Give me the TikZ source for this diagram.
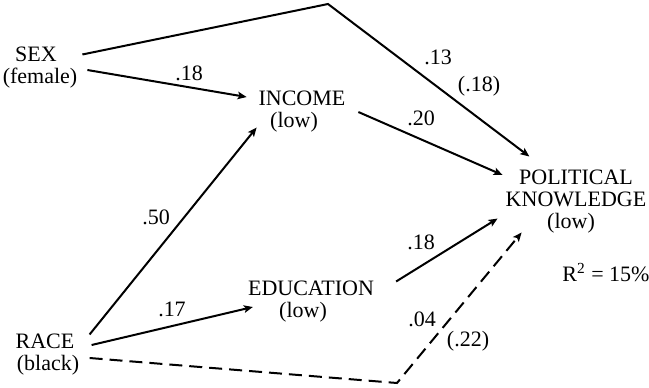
\documentclass[tikz,border=0pt]{standalone}
\usepackage{fontspec}
\setmainfont{Liberation Serif}
\usepackage{tikz}
\usetikzlibrary{arrows.meta,calc}
\tikzset{
  var/.style={font=\fontsize{11}{11}\selectfont, align=center, inner sep=0pt},
  coef/.style={font=\fontsize{11}{11}\selectfont, anchor=base, inner sep=0pt},
  effect/.style={-{Stealth[length=4.5pt,width=3.8pt,inset=1pt]}, line width=1pt},
  weak/.style={effect, dash pattern=on 6.5pt off 3.5pt},
}
\begin{document}
\begin{tikzpicture}[x=0.5pt,y=-0.5pt]
    \useasboundingbox (0,0) rectangle (649,387);
    % --- variables ---
    \node[var] (sex)    at (40,67.5)   {SEX\kern4pt\\(female)};
    \node[var] (income) at (302,111.5) {INCOME\\(low)\kern8pt};
    \node[var] (edu)    at (311,301.5) {EDUCATION\\(low)\kern8pt};
    \node[var] (race)   at (48,354.5)  {RACE\kern3pt\\(black)};
    \node[var] (know)   at (576,201.5) {POLITICAL\\KNOWLEDGE\\(low)\kern5pt};
    \node[coef] (rsq)   at (606,281)   {R\textsuperscript{2} = 15\%};
    % --- bends ---
    \coordinate (topbend) at (328,4);
    \coordinate (lowbend) at (397,383);
    % --- paths ---
    \draw[effect] ($(sex.north east)+(4.75,8)$) -- (topbend)
      -- ($(know.north west)+(24,-13)$);
    \draw[effect] ($(sex.east)+(9.75,2.5)$) -- ($(income.west)+(-11.6,-14.5)$);
    \draw[effect] ($(income.east)+(12.6,0.5)$) -- ($(know.west)+(-2.75,-26.5)$);
    \draw[effect] ($(race.north east)+(8.85,1)$) -- ($(income.south west)+(-1.6,-5)$);
    \draw[effect] ($(race.east)+(10.85,-9.5)$) -- ($(edu.west)+(5.2,5.5)$);
    \draw[effect] ($(edu.north east)+(21.8,1)$) -- ($(know.south west)+(-7.75,-15)$);
    \draw[weak] ($(race.east)+(8.85,3.5)$) -- (lowbend)
      -- ($(know.south west)+(16.25,-1)$);
    % --- coefficients ---
    \node[coef] (c1) at (189,80)  {.18};
    \node[coef] (c2) at (438,64)  {.13};
    \node[coef] (c3) at (479,91)  {(.18)};
    \node[coef] (c4) at (421,125) {.20};
    \node[coef] (c5) at (156,224) {.50};
    \node[coef] (c6) at (172,316) {.17};
    \node[coef] (c7) at (421,249) {.18};
    \node[coef] (c8) at (422,326) {.04};
    \node[coef] (c9) at (468,346) {(.22)};
\end{tikzpicture}
\end{document}
